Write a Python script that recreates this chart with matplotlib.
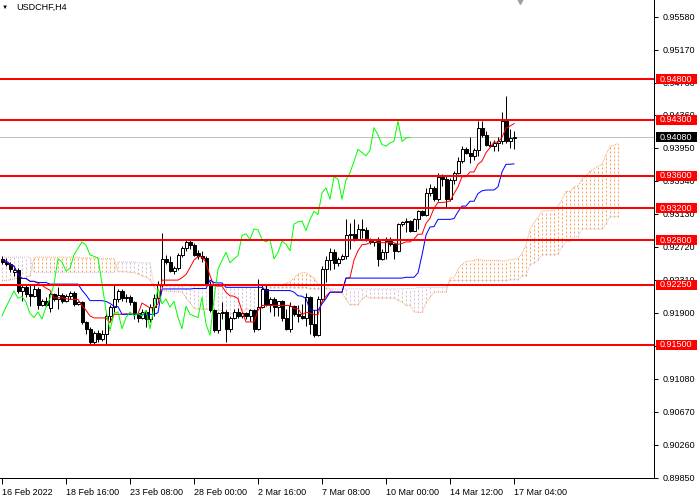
import numpy as np
import pandas as pd
import matplotlib
matplotlib.use("Agg")
import matplotlib.pyplot as plt
import matplotlib.transforms as mtransforms
from matplotlib.patches import Rectangle

# USDCHF H4 candles, bar 0 = 16 Feb 2022 00:00
opens = [0.9257, 0.9253, 0.9251, 0.9240, 0.9243, 0.9217, 0.9222, 0.9213, 0.9211, 0.9220,
         0.9200, 0.9204, 0.9196, 0.9213, 0.9207, 0.9212, 0.9205, 0.9211, 0.9215, 0.9201,
         0.9203, 0.9178, 0.9170, 0.9153, 0.9165, 0.9157, 0.9163, 0.9186, 0.9197, 0.9207,
         0.9217, 0.9208, 0.9210, 0.9203, 0.9189, 0.9184, 0.9191, 0.9182, 0.9197, 0.9208,
         0.9226, 0.9257, 0.9253, 0.9242, 0.9245, 0.9262, 0.9270, 0.9278, 0.9274, 0.9264,
         0.9260, 0.9258, 0.9226, 0.9193, 0.9168, 0.9189, 0.9191, 0.9170, 0.9184, 0.9191,
         0.9186, 0.9189, 0.9186, 0.9193, 0.9170, 0.9197, 0.9220, 0.9201, 0.9207, 0.9197,
         0.9204, 0.9184, 0.9170, 0.9198, 0.9188, 0.9186, 0.9184, 0.9209, 0.9176, 0.9162,
         0.9207, 0.9244, 0.9255, 0.9265, 0.9252, 0.9257, 0.9261, 0.9286, 0.9288, 0.9281,
         0.9294, 0.9293, 0.9281, 0.9278, 0.9281, 0.9257, 0.9265, 0.9279, 0.9275, 0.9267,
         0.9300, 0.9303, 0.9304, 0.9292, 0.9306, 0.9316, 0.9312, 0.9339, 0.9345, 0.9331,
         0.9359, 0.9356, 0.9331, 0.9355, 0.9364, 0.9378, 0.9393, 0.9389, 0.9385, 0.9392,
         0.9420, 0.9411, 0.9399, 0.9397, 0.9401, 0.9403, 0.9428, 0.9403, 0.9407]
highs = [0.9260, 0.9258, 0.9253, 0.9246, 0.9245, 0.9226, 0.9226, 0.9226, 0.9224, 0.9222,
         0.9207, 0.9209, 0.9216, 0.9215, 0.9222, 0.9215, 0.9213, 0.9217, 0.9217, 0.9205,
         0.9205, 0.9180, 0.9172, 0.9167, 0.9168, 0.9168, 0.9189, 0.9200, 0.9226, 0.9219,
         0.9220, 0.9213, 0.9212, 0.9205, 0.9191, 0.9195, 0.9193, 0.9201, 0.9213, 0.9230,
         0.9289, 0.9262, 0.9261, 0.9248, 0.9264, 0.9273, 0.9281, 0.9281, 0.9277, 0.9268,
         0.9267, 0.9261, 0.9230, 0.9195, 0.9191, 0.9203, 0.9193, 0.9186, 0.9195, 0.9196,
         0.9191, 0.9191, 0.9195, 0.9194, 0.9232, 0.9224, 0.9224, 0.9209, 0.9209, 0.9205,
         0.9206, 0.9195, 0.9203, 0.9199, 0.9199, 0.9201, 0.9215, 0.9211, 0.9193, 0.9211,
         0.9248, 0.9261, 0.9271, 0.9269, 0.9259, 0.9263, 0.9306, 0.9302, 0.9306, 0.9300,
         0.9306, 0.9296, 0.9283, 0.9282, 0.9284, 0.9269, 0.9284, 0.9284, 0.9277, 0.9302,
         0.9304, 0.9308, 0.9305, 0.9308, 0.9318, 0.9318, 0.9345, 0.9350, 0.9347, 0.9364,
         0.9362, 0.9361, 0.9358, 0.9366, 0.9383, 0.9397, 0.9396, 0.9409, 0.9395, 0.9428,
         0.9428, 0.9416, 0.9403, 0.9405, 0.9409, 0.9440, 0.9459, 0.9418, 0.9416]
lows = [0.9251, 0.9248, 0.9241, 0.9236, 0.9215, 0.9205, 0.9210, 0.9198, 0.9209, 0.9195,
        0.9198, 0.9198, 0.9191, 0.9205, 0.9195, 0.9202, 0.9203, 0.9207, 0.9198, 0.9199,
        0.9176, 0.9164, 0.9150, 0.9151, 0.9154, 0.9155, 0.9151, 0.9180, 0.9191, 0.9203,
        0.9205, 0.9203, 0.9200, 0.9182, 0.9178, 0.9182, 0.9172, 0.9178, 0.9186, 0.9203,
        0.9222, 0.9251, 0.9240, 0.9238, 0.9243, 0.9259, 0.9267, 0.9269, 0.9260, 0.9257,
        0.9253, 0.9224, 0.9191, 0.9166, 0.9165, 0.9182, 0.9154, 0.9166, 0.9182, 0.9184,
        0.9183, 0.9182, 0.9180, 0.9166, 0.9168, 0.9196, 0.9198, 0.9191, 0.9186, 0.9186,
        0.9180, 0.9168, 0.9166, 0.9186, 0.9178, 0.9182, 0.9174, 0.9164, 0.9160, 0.9161,
        0.9205, 0.9228, 0.9243, 0.9244, 0.9248, 0.9255, 0.9257, 0.9269, 0.9279, 0.9280,
        0.9283, 0.9279, 0.9276, 0.9273, 0.9248, 0.9255, 0.9257, 0.9273, 0.9257, 0.9265,
        0.9298, 0.9290, 0.9290, 0.9291, 0.9294, 0.9310, 0.9310, 0.9335, 0.9329, 0.9329,
        0.9347, 0.9321, 0.9329, 0.9350, 0.9362, 0.9376, 0.9387, 0.9376, 0.9380, 0.9385,
        0.9409, 0.9397, 0.9396, 0.9391, 0.9391, 0.9400, 0.9401, 0.9395, 0.9393]
closes = [0.9253, 0.9251, 0.9244, 0.9243, 0.9217, 0.9222, 0.9213, 0.9211, 0.9220, 0.9200,
          0.9204, 0.9200, 0.9213, 0.9207, 0.9212, 0.9205, 0.9211, 0.9215, 0.9201, 0.9203,
          0.9178, 0.9170, 0.9153, 0.9165, 0.9157, 0.9163, 0.9186, 0.9197, 0.9207, 0.9217,
          0.9208, 0.9210, 0.9203, 0.9189, 0.9184, 0.9191, 0.9182, 0.9197, 0.9208, 0.9226,
          0.9257, 0.9253, 0.9242, 0.9245, 0.9262, 0.9270, 0.9278, 0.9274, 0.9262, 0.9260,
          0.9258, 0.9226, 0.9193, 0.9168, 0.9189, 0.9191, 0.9170, 0.9184, 0.9191, 0.9186,
          0.9189, 0.9186, 0.9193, 0.9170, 0.9197, 0.9220, 0.9201, 0.9207, 0.9197, 0.9204,
          0.9184, 0.9170, 0.9198, 0.9188, 0.9186, 0.9184, 0.9209, 0.9176, 0.9162, 0.9207,
          0.9244, 0.9255, 0.9265, 0.9252, 0.9257, 0.9261, 0.9286, 0.9288, 0.9281, 0.9294,
          0.9293, 0.9281, 0.9278, 0.9281, 0.9257, 0.9265, 0.9279, 0.9275, 0.9267, 0.9300,
          0.9303, 0.9304, 0.9292, 0.9306, 0.9316, 0.9312, 0.9339, 0.9345, 0.9331, 0.9359,
          0.9356, 0.9331, 0.9355, 0.9364, 0.9378, 0.9393, 0.9389, 0.9385, 0.9392, 0.9420,
          0.9411, 0.9399, 0.9397, 0.9401, 0.9403, 0.9428, 0.9403, 0.9407, 0.9408]

span_a_head = [0.9230, 0.9230, 0.9231, 0.9232, 0.9233, 0.9233, 0.9234, 0.9236, 0.9258, 0.9259,
               0.9259, 0.9259, 0.9259, 0.9259, 0.9259, 0.9259, 0.9259, 0.9259, 0.9259, 0.9259,
               0.9258, 0.9258, 0.9258, 0.9258, 0.9257, 0.9257, 0.9257, 0.9257, 0.9257, 0.9241,
               0.9241, 0.9241, 0.9240, 0.9240, 0.9238, 0.9236, 0.9234, 0.9231]
span_b_head = [0.9259, 0.9259, 0.9259, 0.9259, 0.9259, 0.9259, 0.9259, 0.9259, 0.9240, 0.9240,
               0.9240, 0.9240, 0.9240, 0.9240, 0.9240, 0.9240, 0.9240, 0.9240, 0.9240, 0.9240,
               0.9240, 0.9240, 0.9240, 0.9240, 0.9240, 0.9240, 0.9240, 0.9240, 0.9240, 0.9253,
               0.9253, 0.9253, 0.9253, 0.9253, 0.9252, 0.9252, 0.9252, 0.9252, 0.9223, 0.9223,
               0.9223, 0.9223, 0.9223, 0.9223, 0.9223, 0.9223, 0.9223, 0.9223, 0.9223, 0.9223,
               0.9223, 0.9223, 0.9223, 0.9223, 0.9223, 0.9223, 0.9223, 0.9223, 0.9223, 0.9223,
               0.9223, 0.9223, 0.9223, 0.9223, 0.9223, 0.9221, 0.9221, 0.9221, 0.9221, 0.9221,
               0.9221, 0.9221, 0.9221, 0.9221, 0.9221, 0.9221, 0.9221]

levels = [0.9480, 0.9430, 0.9360, 0.9320, 0.9280, 0.9225, 0.9150]
bid = 0.9408
ytick_vals = [0.95580, 0.95170, 0.94760, 0.94360, 0.93950, 0.93540, 0.93130, 0.92720,
              0.92310, 0.91900, 0.91490, 0.91080, 0.90670, 0.90260, 0.89850]
xtick_bars = [0, 16, 32, 48, 64, 80, 96, 112, 128]
xtick_text = ["16 Feb 2022", "18 Feb 16:00", "23 Feb 08:00", "28 Feb 00:00", "2 Mar 16:00",
              "7 Mar 08:00", "10 Mar 00:00", "14 Mar 12:00", "17 Mar 04:00"]

plt.rcParams['font.family'] = ['Liberation Sans', 'DejaVu Sans']
fs = 6.5
px = 0.72  # one pixel in points

df = pd.DataFrame({'o': opens, 'h': highs, 'l': lows, 'c': closes})
n = len(df)
tenkan = (df['h'].rolling(9, min_periods=1).max() + df['l'].rolling(9, min_periods=1).min()) / 2
kijun = (df['h'].rolling(26, min_periods=1).max() + df['l'].rolling(26, min_periods=1).min()) / 2
spanb = (df['h'].rolling(52, min_periods=1).max() + df['l'].rolling(52, min_periods=1).min()) / 2
spana = (tenkan + kijun) / 2
span_a = np.array(span_a_head + list(spana.values[len(span_a_head) - 26:]))
span_b = np.array(span_b_head + list(spanb.values[len(span_b_head) - 26:]))
cloud_x = np.arange(len(span_a))

fig = plt.figure(figsize=(7, 5), dpi=100)
ax = fig.add_axes([0, 22 / 500, 654 / 700, 478 / 500])
ax.set_xlim(-0.5, 163)
ax.set_ylim(0.89845, 0.95787)

# kumo
top = np.maximum(span_a, span_b)
bot = np.minimum(span_a, span_b)
cols = ['#F4A460' if a >= b else '#D8BFD8' for a, b in zip(span_a, span_b)]
ax.vlines(cloud_x, bot, top, colors=cols, linewidth=px, linestyles=(0, (2, 2)), zorder=1)
ax.plot(cloud_x, span_a, color='#F4A460', lw=px, ls=(0, (1, 1)), zorder=1)
ax.plot(cloud_x, span_b, color='#D8BFD8', lw=px, ls=(0, (1, 1)), zorder=1)

# candles
x = np.arange(n)
ax.vlines(x, df['l'], df['h'], color='black', linewidth=px, zorder=3)
up = df['c'] >= df['o']
body_lo = np.minimum(df['o'], df['c'])
body_h = np.maximum((df['c'] - df['o']).abs(), 0.00004)
ax.bar(x, body_h, bottom=body_lo, width=0.75, color=np.where(up, 'white', 'black'),
       edgecolor='black', linewidth=px, zorder=4)

ax.plot(x, tenkan, color='#FF0000', lw=px, zorder=5)
ax.plot(x, kijun, color='#0000FF', lw=px, zorder=5)
ax.plot(x[26:] - 26, df['c'].values[26:], color='#00FF00', lw=px, zorder=5)

ax.axhline(bid, color='#C0C0C0', lw=px, zorder=2)
for lv in levels:
    ax.axhline(lv, color='#FF0000', lw=2 * px, zorder=6)

# axes look
for s in ['top', 'left']:
    ax.spines[s].set_visible(False)
for s in ['right', 'bottom']:
    ax.spines[s].set_linewidth(px)
ax.yaxis.tick_right()
ax.set_yticks(ytick_vals)
ax.set_yticklabels([f"{v:.5f}" for v in ytick_vals])
ax.tick_params(axis='y', length=3, width=px, pad=3, labelsize=fs)
ax.set_xticks(xtick_bars)
ax.set_xticklabels(xtick_text)
ax.tick_params(axis='x', length=4, width=px, pad=3, labelsize=fs)
for lab in ax.get_xticklabels():
    lab.set_ha('left')

trans = mtransforms.blended_transform_factory(ax.transAxes, ax.transData)
h = 10 * (0.95787 - 0.89845) / 478
def price_tag(val, face):
    ax.add_patch(Rectangle((1 + 2 / 654, val - h / 2), 41 / 654, h, transform=trans,
                           facecolor=face, edgecolor='none', clip_on=False, zorder=7))
    ax.text(1 + 6 / 654, val, f"{val:.5f}", transform=trans, color='white', fontsize=fs,
            va='center', ha='left', clip_on=False, zorder=8)

for lv in levels:
    price_tag(lv, '#FF0000')
price_tag(bid, 'black')

fig.text(16 / 700, 1 - 7 / 500, "USDCHF,H4", fontsize=fs, va='center', ha='left')
fig.text(5 / 700, 1 - 7.5 / 500, "\u25bc", fontsize=4.5, va='center', ha='center')
ax.plot([520 / 654 * 163.5 - 0.5], [0.95787], marker='v', color='#A0A0A0', markersize=6,
        clip_on=False, zorder=9)

fig.savefig("out.png", dpi=100)
